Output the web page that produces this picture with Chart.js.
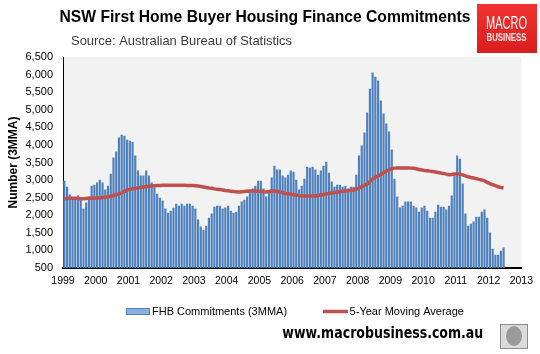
<!DOCTYPE html>
<html lang="en">

<head>
    <meta charset="UTF-8">
    <script src="https://cdn.jsdelivr.net/npm/chart.js"></script>
    <title>NSW First Home Buyer Housing Finance Commitments</title>
    <style>
        body { margin: 0; background: #fff; }
        canvas { display: block; }
    </style>
</head>

<body>
    <canvas id="grafico" width="540" height="354"></canvas>
</body>

</html>
<script>
    // dados - mensal, jan 1999 a jun 2012
    const anoInicio = 1999;
    const anoFim = 2013;

    const fhb = [
        2980, 2810, 2590, 2510, 2510, 2560, 2470, 2190, 2360, 2530, 2840, 2870, // 1999
        2930, 3010, 2930, 2730, 2840, 3180, 3640, 3810, 4210, 4290, 4260, 4150, // 2000
        4120, 4090, 3700, 3270, 3130, 3130, 3270, 3130, 2930, 2790, 2610, 2500, // 2001
        2420, 2190, 2070, 2130, 2210, 2330, 2270, 2330, 2270, 2330, 2330, 2270, // 2002
        2190, 1880, 1680, 1590, 1700, 1930, 2050, 2240, 2270, 2270, 2190, 2220, // 2003
        2270, 2130, 2070, 2100, 2270, 2390, 2440, 2530, 2670, 2760, 2840, 2980, // 2004
        2980, 2760, 2530, 2670, 3070, 3410, 3300, 3300, 3130, 3070, 3150, 3270, // 2005
        3240, 3010, 2730, 2840, 3040, 3380, 3350, 3380, 3300, 3150, 3270, 3410, // 2006
        3520, 3210, 2960, 2810, 2870, 2870, 2810, 2840, 2760, 2810, 2810, 3150, // 2007
        3700, 3980, 4350, 4920, 5600, 6060, 5940, 5830, 5260, 4890, 4610, 4380, // 2008
        3870, 3040, 2530, 2220, 2270, 2390, 2390, 2390, 2270, 2220, 2100, 2220, // 2009
        2270, 2130, 1930, 1930, 2100, 2300, 2240, 2240, 2160, 2270, 2560, 3130, // 2010
        3700, 3610, 2900, 2050, 1700, 1760, 1820, 1960, 1960, 2100, 2160, 1930, // 2011
        1510, 1050, 880, 880, 990, 1080                                        // 2012
    ];

    const media5anos = [
        2470, 2475, 2480, 2485, 2480, 2475, 2470, 2470, 2475, 2480, 2480, 2485,
        2490, 2495, 2505, 2515, 2525, 2540, 2560, 2580, 2605, 2640, 2680, 2715,
        2735, 2750, 2765, 2780, 2790, 2805, 2815, 2825, 2835, 2842, 2845, 2848,
        2850, 2850, 2850, 2850, 2850, 2850, 2850, 2850, 2850, 2848, 2848, 2845,
        2842, 2835, 2820, 2805, 2790, 2775, 2765, 2750, 2740, 2730, 2720, 2705,
        2695, 2685, 2675, 2665, 2660, 2665, 2675, 2685, 2690, 2690, 2688, 2685,
        2680, 2670, 2662, 2675, 2690, 2690, 2675, 2660, 2640, 2620, 2610, 2600,
        2585, 2570, 2558, 2550, 2548, 2548, 2548, 2548, 2550, 2560, 2575, 2590,
        2605, 2620, 2635, 2645, 2655, 2668, 2680, 2690, 2700, 2710, 2720, 2740,
        2770, 2810, 2850, 2890, 2960, 3030, 3080, 3120, 3160, 3210, 3255, 3290,
        3320, 3340, 3345, 3345, 3345, 3345, 3345, 3340, 3335, 3320, 3300, 3287,
        3275, 3265, 3255, 3245, 3230, 3215, 3200, 3190, 3170, 3155, 3160, 3175,
        3183, 3170, 3150, 3120, 3095, 3075, 3060, 3040, 3020, 3003, 2975, 2935,
        2900, 2870, 2840, 2810, 2790, 2775
    ];

    const legendas = ['FHB Commitments (3MMA)', '5-Year Moving Average'];

    // cada mês vira um ponto no meio do mês no eixo de anos
    function pontos(valores) {
        return valores.map((v, i) => ({ x: anoInicio + (i + 0.5) / 12, y: v }));
    }

    const fundoCinza = {
        id: 'fundoCinza',
        beforeDraw(chart) {
            const { ctx, chartArea: a } = chart;
            ctx.save();
            ctx.fillStyle = '#fff';
            ctx.fillRect(0, 0, chart.width, chart.height);
            ctx.fillStyle = '#F2F2F2';
            ctx.fillRect(a.left, a.top, a.right - a.left, a.bottom - a.top);
            ctx.restore();
        }
    };

    const extras = {
        id: 'extras',
        afterDraw(chart) {
            const ctx = chart.ctx;
            ctx.save();
            ctx.textAlign = 'left';
            ctx.textBaseline = 'alphabetic';

            // titulo e fonte
            ctx.fillStyle = '#000';
            ctx.font = 'bold 16.5px "Liberation Sans", Arial';
            ctx.fillText('NSW First Home Buyer Housing Finance Commitments', 59.5, 21.5, 411);
            ctx.fillStyle = '#3a3a3a';
            ctx.font = '13px "Liberation Sans", Arial';
            ctx.fillText('Source: Australian Bureau of Statistics', 71, 45, 221);

            // logo
            const grad = ctx.createLinearGradient(0, 4, 0, 53);
            grad.addColorStop(0, '#F03330');
            grad.addColorStop(1, '#D91E1E');
            ctx.fillStyle = grad;
            ctx.fillRect(477, 4, 60, 49);
            ctx.textAlign = 'center';
            ctx.fillStyle = '#fff';
            ctx.font = '18px "Liberation Sans Narrow", "Liberation Sans", Arial';
            ctx.fillText('MACRO', 506.5, 29, 41);
            ctx.fillStyle = '#FBE3E3';
            ctx.font = 'bold 10px "Liberation Sans Narrow", "Liberation Sans", Arial';
            ctx.fillText('BUSINESS', 506.5, 40.7, 40);

            // legenda
            ctx.textAlign = 'left';
            ctx.textBaseline = 'middle';
            ctx.fillStyle = '#8EB0DA';
            ctx.fillRect(126, 308.5, 24, 6);
            ctx.strokeStyle = '#4F81BD';
            ctx.lineWidth = 1;
            ctx.strokeRect(126.5, 308.5, 23, 6);
            ctx.fillStyle = '#000';
            ctx.font = '11px "Liberation Sans", Arial';
            ctx.fillText(legendas[0], 152, 311.5);
            ctx.strokeStyle = '#C0504D';
            ctx.lineWidth = 3.5;
            ctx.beginPath();
            ctx.moveTo(323, 311.5);
            ctx.lineTo(348, 311.5);
            ctx.stroke();
            ctx.fillText(legendas[1], 349.6, 311.5);

            // rodapé
            ctx.textBaseline = 'alphabetic';
            ctx.font = 'bold 15.5px "DejaVu Sans", Verdana';
            ctx.fillText('www.macrobusiness.com.au', 282.3, 337.7, 201);

            // lobo
            ctx.fillStyle = '#DADADA';
            ctx.fillRect(500.5, 324.5, 27, 24);
            ctx.fillStyle = '#9A9A9A';
            ctx.beginPath();
            ctx.ellipse(514, 336, 8, 10, 0, 0, Math.PI * 2);
            ctx.fill();
            ctx.strokeStyle = '#8C8C8C';
            ctx.lineWidth = 1;
            ctx.strokeRect(500.5, 324.5, 27, 24);

            ctx.restore();
        }
    };

    const ctx = document.getElementById('grafico');

    const grafico = new Chart(ctx, {
        type: 'bar',
        data: {
            datasets: [{
                type: 'line',
                label: legendas[1],
                data: pontos(media5anos),
                borderColor: '#C0504D',
                backgroundColor: '#C0504D',
                borderWidth: 3.5,
                pointRadius: 0,
                tension: 0,
                order: 0
            }, {
                label: legendas[0],
                data: pontos(fhb),
                backgroundColor: '#4F81BD',
                barPercentage: 0.8,
                categoryPercentage: 1,
                order: 1
            }]
        },
        options: {
            responsive: false,
            animation: false,
            layout: {
                padding: { left: 4, right: 18, top: 57, bottom: 66 }
            },
            plugins: {
                legend: { display: false },
                tooltip: { enabled: false }
            },
            scales: {
                x: {
                    type: 'linear',
                    min: anoInicio,
                    max: anoFim,
                    offset: false,
                    grid: { display: false, drawTicks: false },
                    border: { color: '#000', width: 2 },
                    ticks: {
                        stepSize: 1,
                        autoSkip: false,
                        maxRotation: 0,
                        padding: 7,
                        color: '#000',
                        font: { family: '"Liberation Sans", Arial', size: 10.5 },
                        callback: v => String(v)
                    },
                    afterFit: s => { s.height = 20; }
                },
                y: {
                    min: 500,
                    max: 6500,
                    grid: { display: false, drawTicks: false },
                    border: { color: '#000', width: 1 },
                    ticks: {
                        stepSize: 500,
                        padding: 10,
                        color: '#000',
                        font: { family: '"Liberation Sans", Arial', size: 11 }
                    },
                    title: {
                        display: true,
                        text: 'Number (3MMA)',
                        color: '#000',
                        padding: { top: 2, bottom: 0 },
                        font: { family: '"Liberation Sans", Arial', size: 12, weight: 'bold' }
                    },
                    afterFit: s => { s.width = 59; }
                }
            }
        },
        plugins: [fundoCinza, extras]
    });
</script>
